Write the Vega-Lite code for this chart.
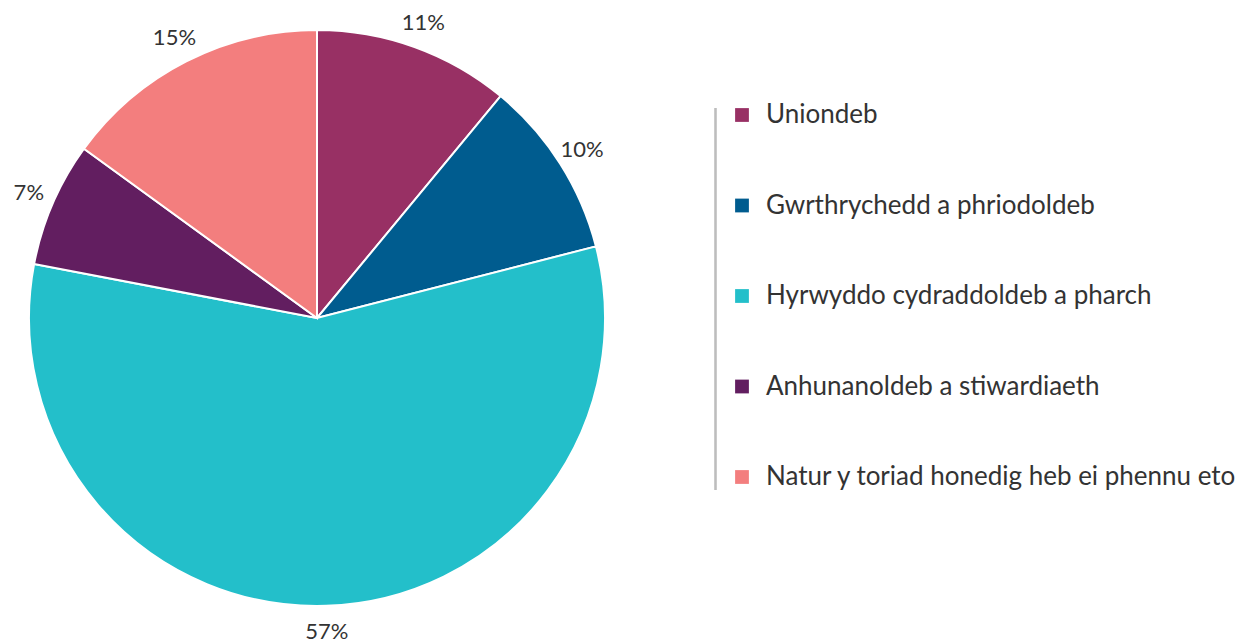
{
  "$schema": "https://vega.github.io/schema/vega-lite/v6.json",
  "padding": 0,
  "background": "white",
  "spacing": 80,
  "data": {
    "values": [
      {"category": "Uniondeb", "value": 11, "order": 1, "label": "11%"},
      {"category": "Gwrthrychedd a phriodoldeb", "value": 10, "order": 2, "label": "10%"},
      {"category": "Hyrwyddo cydraddoldeb a pharch", "value": 57, "order": 3, "label": "57%"},
      {"category": "Anhunanoldeb a stiwardiaeth", "value": 7, "order": 4, "label": "7%"},
      {"category": "Natur y toriad honedig heb ei phennu eto", "value": 15, "order": 5, "label": "15%"}
    ]
  },
  "hconcat": [
    {
      "width": 634,
      "height": 636,
      "encoding": {
        "theta": {"field": "value", "type": "quantitative", "stack": true},
        "order": {"field": "order", "type": "quantitative"}
      },
      "layer": [
        {
          "mark": {"type": "arc", "outerRadius": 288, "stroke": "white", "strokeWidth": 2},
          "encoding": {
            "color": {
              "field": "category",
              "type": "nominal",
              "sort": ["Uniondeb", "Gwrthrychedd a phriodoldeb", "Hyrwyddo cydraddoldeb a pharch", "Anhunanoldeb a stiwardiaeth", "Natur y toriad honedig heb ei phennu eto"],
              "scale": {
                "domain": ["Uniondeb", "Gwrthrychedd a phriodoldeb", "Hyrwyddo cydraddoldeb a pharch", "Anhunanoldeb a stiwardiaeth", "Natur y toriad honedig heb ei phennu eto"],
                "range": ["#983064", "#005C8F", "#23BFCA", "#621E60", "#F37E7E"]
              },
              "legend": {
                "title": null,
                "orient": "none",
                "legendX": 729,
                "legendY": 102,
                "symbolType": "square",
                "symbolSize": 190,
                "symbolStrokeWidth": 0,
                "labelFontSize": 26,
                "labelFont": "Lato",
                "labelColor": "#333333",
                "labelOffset": 11,
                "rowPadding": 64.5,
                "labelLimit": 700
              }
            }
          }
        },
        {
          "mark": {"type": "text", "radius": 314, "font": "Lato", "fontSize": 22, "color": "#333333", "align": "center", "baseline": "middle"},
          "encoding": {
            "text": {"field": "label", "type": "nominal"}
          }
        }
      ]
    },
    {
      "width": 1,
      "height": 543,
      "mark": {"type": "rule", "color": "#BDBDBD", "strokeWidth": 1.5, "yOffset": -7, "y2Offset": 13},
      "encoding": {
        "y": {
          "datum": "Uniondeb",
          "type": "ordinal",
          "scale": {
            "type": "point",
            "domain": ["Uniondeb", "Gwrthrychedd a phriodoldeb", "Hyrwyddo cydraddoldeb a pharch", "Anhunanoldeb a stiwardiaeth", "Natur y toriad honedig heb ei phennu eto"],
            "padding": 1,
            "align": 0.635
          },
          "axis": null
        },
        "y2": {"datum": "Natur y toriad honedig heb ei phennu eto"}
      }
    }
  ],
  "config": {
    "view": {"stroke": null}
  }
}
